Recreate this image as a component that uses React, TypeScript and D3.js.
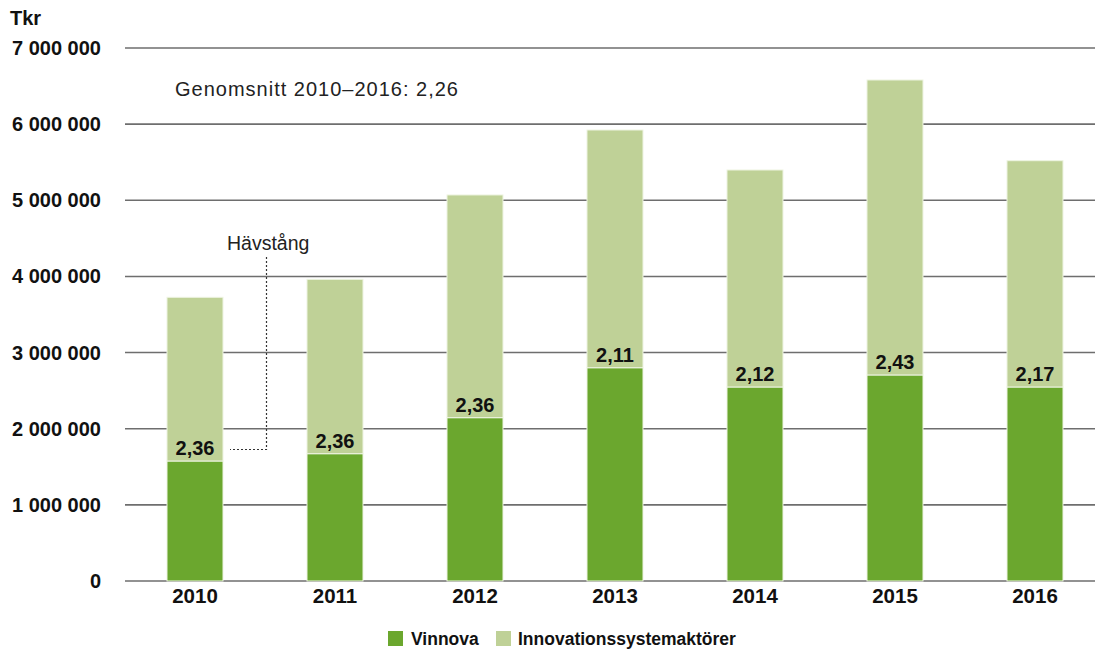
import React from "react";
import * as d3 from "d3";

const years = ["2010", "2011", "2012", "2013", "2014", "2015", "2016"];
const vinnova = [1576000, 1672000, 2145000, 2801000, 2548000, 2706000, 2548000];
const aktorer = [2150000, 2290000, 2925000, 3122000, 2850000, 3874000, 2972000];
const ratioLabels = ["2,36", "2,36", "2,36", "2,11", "2,12", "2,43", "2,17"];
const yTicks = [0, 1000000, 2000000, 3000000, 4000000, 5000000, 6000000, 7000000];
const seriesNames = ["Vinnova", "Innovationssystemaktörer"];
const colors = ["#6ba72e", "#bfd197"];

const W = 1095;
const H = 650;
const FONT = "'Liberation Sans', Arial, sans-serif";

export default function App() {
  const x = d3
    .scaleBand<string>()
    .domain(years)
    .range([125, 1105])
    .paddingInner(0.6)
    .paddingOuter(0.3);
  const y = d3.scaleLinear().domain([0, 7000000]).range([581, 48]);
  const fmt = (v: number) => d3.format(",")(v).replace(/,/g, " ");

  const data = years.map((yr, i) => ({ yr, v: vinnova[i], a: aktorer[i], r: ratioLabels[i] }));
  const stack = d3.stack<any>().keys(["v", "a"])(data as any);

  return (
    <svg
      width={W}
      height={H}
      style={{ position: "absolute", left: 0, top: 0, display: "block", background: "#fff" }}
      fontFamily={FONT}
    >
      <text x={10} y={25} fontSize={20} fontWeight="bold" fill="#111">Tkr</text>
      {yTicks.map((t) => (
        <g key={t}>
          <line x1={125} x2={1095} y1={y(t)} y2={y(t)} stroke="#6e6e6e" strokeWidth={1.6} />
          <text x={101} y={y(t) + 7} textAnchor="end" fontSize={20} fontWeight="bold" fill="#111">
            {fmt(t)}
          </text>
        </g>
      ))}
      {stack.map((layer, li) =>
        layer.map((d: any, i: number) => (
          <rect
            key={li + "-" + i}
            x={x(years[i])}
            width={x.bandwidth()}
            y={y(d[1])}
            height={y(d[0]) - y(d[1])}
            fill={colors[li]}
            stroke="#eef4e2"
            strokeWidth={1}
          />
        ))
      )}
      {data.map((d) => (
        <text
          key={d.yr}
          x={(x(d.yr) as number) + x.bandwidth() / 2}
          y={y(d.v) - 6}
          textAnchor="middle"
          fontSize={20}
          fontWeight="bold"
          fill="#111"
        >
          {d.r}
        </text>
      ))}
      {years.map((yr) => (
        <text
          key={yr}
          x={(x(yr) as number) + x.bandwidth() / 2}
          y={603}
          textAnchor="middle"
          fontSize={20.5}
          fontWeight="bold"
          fill="#111"
        >
          {yr}
        </text>
      ))}
      <text x={175} y={96} fontSize={20} letterSpacing={1.0} fill="#222">
        Genomsnitt 2010–2016: 2,26
      </text>
      <text x={227} y={250} fontSize={19.5} fill="#222">
        Hävstång
      </text>
      <path
        d={`M266.5,257 L266.5,449.5 L230,449.5`}
        fill="none"
        stroke="#333"
        strokeWidth={1.2}
        strokeDasharray="2,2"
      />
      <rect x={388} y={631} width={15} height={15} fill={colors[0]} />
      <text x={411} y={645} fontSize={17.5} fontWeight="bold" fill="#111">{seriesNames[0]}</text>
      <rect x={496} y={631} width={15} height={15} fill={colors[1]} />
      <text x={518} y={645} fontSize={17.5} fontWeight="bold" fill="#111">{seriesNames[1]}</text>
    </svg>
  );
}
